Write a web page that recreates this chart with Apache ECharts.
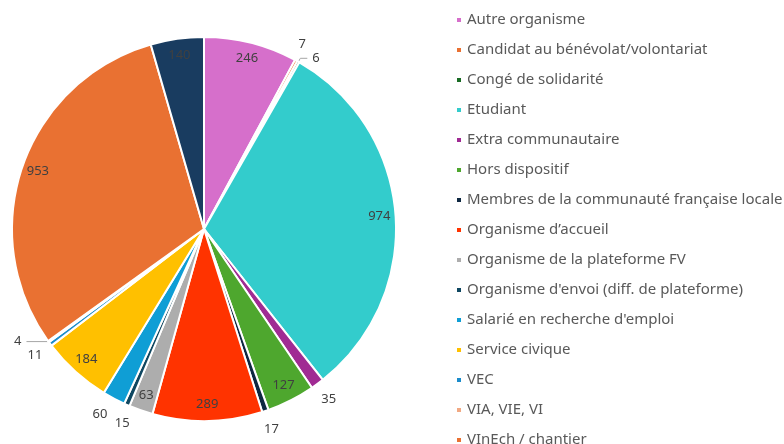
<!DOCTYPE html>
<html><head><meta charset="utf-8">
<script src="https://cdn.jsdelivr.net/npm/echarts@6/dist/echarts.min.js"></script>
<style>html,body{margin:0;padding:0;background:#fff}#c{width:784px;height:444px}</style>
</head><body><div id="c"></div>
<script>
const categories = [
  "Autre organisme",
  "Candidat au bénévolat/volontariat",
  "Congé de solidarité",
  "Etudiant",
  "Extra communautaire",
  "Hors dispositif",
  "Membres de la communauté française locale",
  "Organisme d’accueil",
  "Organisme de la plateforme FV",
  "Organisme d'envoi (diff. de plateforme)",
  "Salarié en recherche d'emploi",
  "Service civique",
  "VEC",
  "VIA, VIE, VI",
  "VInEch / chantier",
  "Volontaire"
];
const values = [246, 7, 6, 974, 35, 127, 17, 289, 63, 15, 60, 184, 11, 4, 953, 140];
const colors = ["#D66FCB","#E97132","#196B24","#33CCCC","#A02B93","#4EA72E","#0E2841","#FF3300","#ADADAD","#0F4761","#0F9ED5","#FFC000","#1B8CCB","#F1A983","#E97132","#193C60"];
// label placement: 'in' = inside the slice, 'out' = just outside, 'line' = outside with a leader line
const labelPlace = ["in","out","line","in","out","in","out","in","in","out","out","in","out","line","in","in"];
const legendNames = categories.slice(0, 15);

const chart = echarts.init(document.getElementById('c'));
const R = 192;
const center = [204, 229];
const font = '"Noto Sans", sans-serif';
const labelStyle = { color: '#404040', fontFamily: font, fontSize: 13, formatter: '{c}' };
const labelNudge = { 1: [-3, 0], 9: [3, 1], 10: [-5, -1] };

const pieData = categories.map((n, i) => ({ name: n, value: values[i], itemStyle: { color: colors[i] } }));

const innerRing = categories.map((n, i) => {
  const d = { name: n, value: values[i] };
  if (labelPlace[i] === 'in') {
    d.label = { show: true, position: 'inside' };
  } else if (labelPlace[i] === 'line') {
    d.label = { show: true, position: 'outside' };
    d.labelLine = n === 'VIA, VIE, VI'
      ? { show: true, length: 0, length2: 22 }
      : { show: true, length: 4, length2: 7 };
  } else {
    d.label = { show: false };
    d.labelLine = { show: false };
  }
  return d;
});

const outerRing = categories.map((n, i) => ({
  name: n, value: values[i],
  label: { show: labelPlace[i] === 'out', position: 'inside', offset: labelNudge[i] || [0, 0] }
}));

const ghost = {
  type: 'pie', center: center, startAngle: 90, clockwise: true, silent: true,
  itemStyle: { color: 'rgba(0,0,0,0)', borderWidth: 0 },
  emphasis: { disabled: true },
  label: labelStyle,
  labelLine: { lineStyle: { color: '#A6A6A6', width: 1 } },
  labelLayout: { hideOverlap: false },
  avoidLabelOverlap: false
};

chart.setOption({
  animation: false,
  legend: {
    orient: 'vertical',
    left: 455,
    top: 12,
    padding: 0,
    height: 1000,
    data: legendNames,
    icon: 'rect',
    itemWidth: 6,
    itemHeight: 6,
    itemGap: 14,
    textStyle: { fontFamily: font, fontSize: 15, color: '#595959', lineHeight: 16 }
  },
  series: [
    {
      type: 'pie',
      radius: R,
      center: center,
      startAngle: 90,
      clockwise: true,
      silent: true,
      data: pieData,
      label: { show: false },
      labelLine: { show: false },
      itemStyle: { borderColor: '#ffffff', borderWidth: 2 }
    },
    Object.assign({}, ghost, { radius: [R * 0.8, R], data: innerRing }),
    Object.assign({}, ghost, { radius: [R + 4, R + 28], data: outerRing })
  ]
});
</script></body></html>
